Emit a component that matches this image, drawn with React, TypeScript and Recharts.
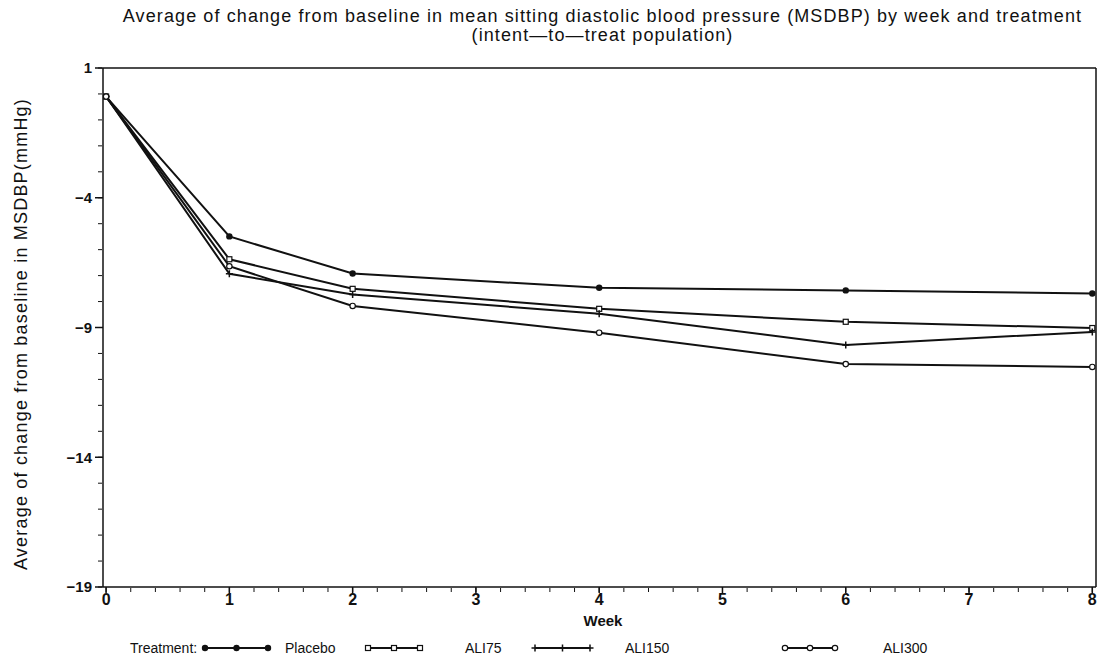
import { LineChart, Line, XAxis, YAxis } from 'recharts'

const weeks = [0, 1, 2, 4, 6, 8]
const placebo = [-0.1, -5.49, -6.92, -7.47, -7.57, -7.69]
const ali75 = [-0.1, -6.37, -7.51, -8.28, -8.78, -9.02]
const ali150 = [-0.1, -6.93, -7.73, -8.47, -9.67, -9.17]
const ali300 = [-0.1, -6.64, -8.17, -9.2, -10.41, -10.52]

const xTicks = [0, 1, 2, 3, 4, 5, 6, 7, 8]
const yTicks = [1, -4, -9, -14, -19]
const xMinor = Array.from({ length: 41 }, (_, i) => i * 0.2)
const yMinor = Array.from({ length: 21 }, (_, i) => 1 - i)

const data = weeks.map((w, i) => ({
  week: w,
  placebo: placebo[i],
  ali75: ali75[i],
  ali150: ali150[i],
  ali300: ali300[i],
}))

const FONT = '"Liberation Sans", Arial, sans-serif'
const INK = '#111'
const X_DOMAIN: [number, number] = [-0.025, 8.03]

type Kind = 'dot' | 'square' | 'plus' | 'circle'

function Marker({ kind, x, y }: { kind: Kind; x: number; y: number }) {
  if (kind === 'dot') return <circle cx={x} cy={y} r={3.2} fill={INK} />
  if (kind === 'square')
    return <rect x={x - 2.5} y={y - 2.5} width={5} height={5} fill="#fff" stroke={INK} strokeWidth={1.2} />
  if (kind === 'circle') return <circle cx={x} cy={y} r={2.7} fill="#fff" stroke={INK} strokeWidth={1.2} />
  return (
    <path d={`M${x - 3.5},${y}H${x + 3.5}M${x},${y - 3.5}V${y + 3.5}`} stroke={INK} strokeWidth={1.5} />
  )
}

const dotFor = (kind: Kind) => (props: any) => {
  const { cx, cy, index } = props
  return (
    <g key={`${kind}-${index}`}>
      <Marker kind={kind} x={cx} y={cy} />
    </g>
  )
}

const noLabel = (props: any) => <g key={`t-${props.index}`} />

const fmtY = (v: number) => (v < 0 ? `\u2212${-v}` : `${v}`)

const legendItems: { label: string; kind: Kind; x0: number; x1: number; tx: number }[] = [
  { label: 'Placebo', kind: 'dot', x0: 205, x1: 268, tx: 285 },
  { label: 'ALI75', kind: 'square', x0: 368, x1: 420, tx: 465 },
  { label: 'ALI150', kind: 'plus', x0: 535, x1: 590, tx: 625 },
  { label: 'ALI300', kind: 'circle', x0: 785, x1: 835, tx: 883 },
]

export default function App() {
  return (
    <div style={{ position: 'absolute', left: 0, top: 0, width: 1099, height: 664, background: '#fff', fontFamily: FONT, color: INK }}>
      <div
        style={{
          position: 'absolute',
          left: 0,
          width: 1099,
          top: 7,
          textAlign: 'center',
          fontSize: 18,
          lineHeight: '19px',
          letterSpacing: 1.1,
          paddingLeft: 106,
          boxSizing: 'border-box',
          whiteSpace: 'nowrap',
        }}
      >
        Average of change from baseline in mean sitting diastolic blood pressure (MSDBP) by week and treatment
        <br />
        (intent—to—treat population)
      </div>
      <div
        style={{
          position: 'absolute',
          left: 21,
          top: 334,
          transform: 'translate(-50%, -50%) rotate(-90deg)',
          whiteSpace: 'nowrap',
          fontSize: 18,
          letterSpacing: 1.2,
        }}
      >
        Average of change from baseline in MSDBP(mmHg)
      </div>
      <div style={{ position: 'absolute', left: 603, top: 620, transform: 'translate(-50%, -50%)', fontSize: 15, fontWeight: 'bold' }}>
        Week
      </div>
      <svg style={{ position: 'absolute', left: 0, top: 636 }} width={1099} height={24}>
        <text x={130} y={17} fontSize={14} fontFamily={FONT} fill={INK}>
          Treatment:
        </text>
        {legendItems.map((it) => (
          <g key={it.label}>
            <line x1={it.x0} x2={it.x1} y1={12} y2={12} stroke={INK} strokeWidth={2} />
            <Marker kind={it.kind} x={it.x0} y={12} />
            <Marker kind={it.kind} x={(it.x0 + it.x1) / 2} y={12} />
            <Marker kind={it.kind} x={it.x1} y={12} />
            <text x={it.tx} y={17} fontSize={14} fontFamily={FONT} fill={INK}>
              {it.label}
            </text>
          </g>
        ))}
      </svg>
      <div style={{ position: 'absolute', left: 0, top: 0 }}>
        <LineChart width={1099} height={664} data={data} margin={{ top: 67, right: 2, left: 0, bottom: 0 }}>
          <XAxis
            xAxisId="minor"
            type="number"
            dataKey="week"
            domain={X_DOMAIN}
            ticks={xMinor}
            interval={0}
            tick={noLabel}
            tickSize={4}
            height={76}
            allowDataOverflow
            axisLine={false}
            tickLine={{ stroke: INK }}
          />
          <XAxis
            type="number"
            dataKey="week"
            domain={X_DOMAIN}
            allowDataOverflow
            ticks={xTicks}
            interval={0}
            height={1}
            tickSize={6}
            tickMargin={1}
            axisLine={{ stroke: INK, strokeWidth: 1.5 }}
            tickLine={{ stroke: INK, strokeWidth: 1.5 }}
            tick={{ fill: INK, fontSize: 16, fontWeight: 'bold', fontFamily: FONT }}
          />
          <XAxis xAxisId="top" orientation="top" type="number" domain={X_DOMAIN} height={1} tick={false} tickLine={false} axisLine={{ stroke: INK, strokeWidth: 1.5 }} allowDataOverflow />
          <YAxis
            yAxisId="minor"
            type="number"
            domain={[-19, 1]}
            ticks={yMinor}
            interval={0}
            tick={noLabel}
            tickSize={4}
            width={102}
            allowDataOverflow
            axisLine={false}
            tickLine={{ stroke: INK }}
          />
          <YAxis
            type="number"
            domain={[-19, 1]}
            ticks={yTicks}
            interval={0}
            width={1}
            tickSize={8}
            tickMargin={3}
            tickFormatter={fmtY}
            axisLine={{ stroke: INK, strokeWidth: 1.5 }}
            tickLine={{ stroke: INK, strokeWidth: 1.5 }}
            tick={{ fill: INK, fontSize: 15, fontWeight: 'bold', fontFamily: FONT }}
          />
          <YAxis yAxisId="right" orientation="right" type="number" domain={[-19, 1]} width={1} tick={false} tickLine={false} axisLine={{ stroke: INK, strokeWidth: 1.5 }} allowDataOverflow />
          <Line dataKey="placebo" stroke={INK} strokeWidth={2} dot={dotFor('dot')} isAnimationActive={false} />
          <Line dataKey="ali75" stroke={INK} strokeWidth={2} dot={dotFor('square')} isAnimationActive={false} />
          <Line dataKey="ali150" stroke={INK} strokeWidth={2} dot={dotFor('plus')} isAnimationActive={false} />
          <Line dataKey="ali300" stroke={INK} strokeWidth={2} dot={dotFor('circle')} isAnimationActive={false} />
        </LineChart>
      </div>
    </div>
  )
}
